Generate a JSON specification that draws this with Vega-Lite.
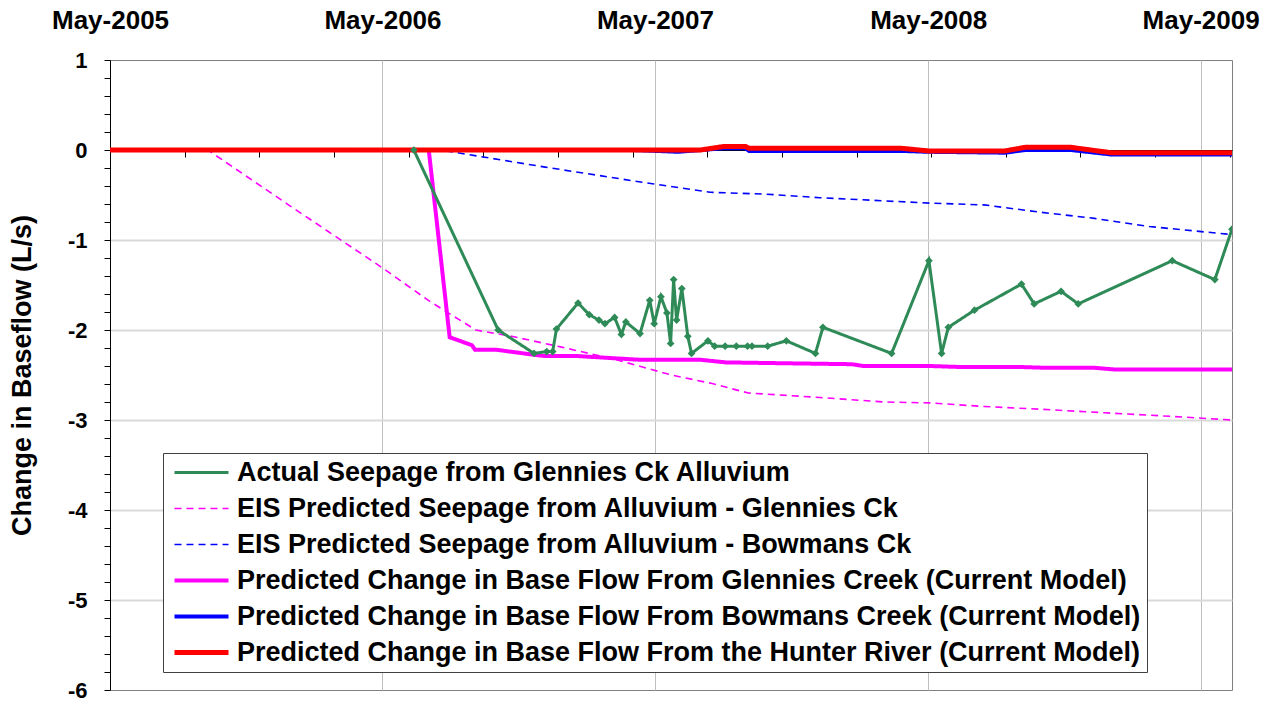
{
  "$schema": "https://vega.github.io/schema/vega-lite/v6.json",
  "width": 1122,
  "height": 630,
  "autosize": {"type": "none"},
  "padding": {"left": 110, "top": 60, "right": 42, "bottom": 14},
  "background": "#ffffff",
  "config": {"view": {"stroke": "#808080", "strokeWidth": 1}, "font": "Liberation Sans"},
  "data": {"values": [
    {"series": "Actual Seepage from Glennies Ck Alluvium", "date": "2006-06-12", "value": 0},
    {"series": "Actual Seepage from Glennies Ck Alluvium", "date": "2006-10-03", "value": -2.0},
    {"series": "Actual Seepage from Glennies Ck Alluvium", "date": "2006-11-20", "value": -2.26},
    {"series": "Actual Seepage from Glennies Ck Alluvium", "date": "2006-12-07", "value": -2.24},
    {"series": "Actual Seepage from Glennies Ck Alluvium", "date": "2006-12-15", "value": -2.24},
    {"series": "Actual Seepage from Glennies Ck Alluvium", "date": "2006-12-20", "value": -1.99},
    {"series": "Actual Seepage from Glennies Ck Alluvium", "date": "2007-01-18", "value": -1.70},
    {"series": "Actual Seepage from Glennies Ck Alluvium", "date": "2007-02-02", "value": -1.83},
    {"series": "Actual Seepage from Glennies Ck Alluvium", "date": "2007-02-15", "value": -1.89},
    {"series": "Actual Seepage from Glennies Ck Alluvium", "date": "2007-02-23", "value": -1.93},
    {"series": "Actual Seepage from Glennies Ck Alluvium", "date": "2007-03-08", "value": -1.86},
    {"series": "Actual Seepage from Glennies Ck Alluvium", "date": "2007-03-17", "value": -2.05},
    {"series": "Actual Seepage from Glennies Ck Alluvium", "date": "2007-03-23", "value": -1.91},
    {"series": "Actual Seepage from Glennies Ck Alluvium", "date": "2007-04-11", "value": -2.04},
    {"series": "Actual Seepage from Glennies Ck Alluvium", "date": "2007-04-24", "value": -1.67},
    {"series": "Actual Seepage from Glennies Ck Alluvium", "date": "2007-04-30", "value": -1.93},
    {"series": "Actual Seepage from Glennies Ck Alluvium", "date": "2007-05-09", "value": -1.63},
    {"series": "Actual Seepage from Glennies Ck Alluvium", "date": "2007-05-17", "value": -1.81},
    {"series": "Actual Seepage from Glennies Ck Alluvium", "date": "2007-05-22", "value": -2.15},
    {"series": "Actual Seepage from Glennies Ck Alluvium", "date": "2007-05-26", "value": -1.44},
    {"series": "Actual Seepage from Glennies Ck Alluvium", "date": "2007-05-30", "value": -1.89},
    {"series": "Actual Seepage from Glennies Ck Alluvium", "date": "2007-06-06", "value": -1.54},
    {"series": "Actual Seepage from Glennies Ck Alluvium", "date": "2007-06-14", "value": -2.07},
    {"series": "Actual Seepage from Glennies Ck Alluvium", "date": "2007-06-19", "value": -2.26},
    {"series": "Actual Seepage from Glennies Ck Alluvium", "date": "2007-07-11", "value": -2.12},
    {"series": "Actual Seepage from Glennies Ck Alluvium", "date": "2007-07-20", "value": -2.18},
    {"series": "Actual Seepage from Glennies Ck Alluvium", "date": "2007-08-03", "value": -2.18},
    {"series": "Actual Seepage from Glennies Ck Alluvium", "date": "2007-08-18", "value": -2.18},
    {"series": "Actual Seepage from Glennies Ck Alluvium", "date": "2007-09-02", "value": -2.18},
    {"series": "Actual Seepage from Glennies Ck Alluvium", "date": "2007-09-08", "value": -2.18},
    {"series": "Actual Seepage from Glennies Ck Alluvium", "date": "2007-09-29", "value": -2.18},
    {"series": "Actual Seepage from Glennies Ck Alluvium", "date": "2007-10-24", "value": -2.12},
    {"series": "Actual Seepage from Glennies Ck Alluvium", "date": "2007-12-02", "value": -2.26},
    {"series": "Actual Seepage from Glennies Ck Alluvium", "date": "2007-12-12", "value": -1.97},
    {"series": "Actual Seepage from Glennies Ck Alluvium", "date": "2008-03-13", "value": -2.26},
    {"series": "Actual Seepage from Glennies Ck Alluvium", "date": "2008-05-02", "value": -1.23},
    {"series": "Actual Seepage from Glennies Ck Alluvium", "date": "2008-05-19", "value": -2.26},
    {"series": "Actual Seepage from Glennies Ck Alluvium", "date": "2008-05-28", "value": -1.97},
    {"series": "Actual Seepage from Glennies Ck Alluvium", "date": "2008-07-02", "value": -1.78},
    {"series": "Actual Seepage from Glennies Ck Alluvium", "date": "2008-09-03", "value": -1.49},
    {"series": "Actual Seepage from Glennies Ck Alluvium", "date": "2008-09-20", "value": -1.71},
    {"series": "Actual Seepage from Glennies Ck Alluvium", "date": "2008-10-26", "value": -1.57},
    {"series": "Actual Seepage from Glennies Ck Alluvium", "date": "2008-11-18", "value": -1.71},
    {"series": "Actual Seepage from Glennies Ck Alluvium", "date": "2009-03-24", "value": -1.23},
    {"series": "Actual Seepage from Glennies Ck Alluvium", "date": "2009-05-20", "value": -1.44},
    {"series": "Actual Seepage from Glennies Ck Alluvium", "date": "2009-06-12", "value": -0.88},

    {"series": "EIS Predicted Seepage from Alluvium - Glennies Ck", "date": "2005-05-01", "value": 0},
    {"series": "EIS Predicted Seepage from Alluvium - Glennies Ck", "date": "2005-09-09", "value": 0},
    {"series": "EIS Predicted Seepage from Alluvium - Glennies Ck", "date": "2005-12-28", "value": -0.62},
    {"series": "EIS Predicted Seepage from Alluvium - Glennies Ck", "date": "2006-05-01", "value": -1.31},
    {"series": "EIS Predicted Seepage from Alluvium - Glennies Ck", "date": "2006-07-03", "value": -1.68},
    {"series": "EIS Predicted Seepage from Alluvium - Glennies Ck", "date": "2006-09-03", "value": -2.0},
    {"series": "EIS Predicted Seepage from Alluvium - Glennies Ck", "date": "2006-10-21", "value": -2.07},
    {"series": "EIS Predicted Seepage from Alluvium - Glennies Ck", "date": "2006-12-27", "value": -2.19},
    {"series": "EIS Predicted Seepage from Alluvium - Glennies Ck", "date": "2007-03-10", "value": -2.33},
    {"series": "EIS Predicted Seepage from Alluvium - Glennies Ck", "date": "2007-05-23", "value": -2.50},
    {"series": "EIS Predicted Seepage from Alluvium - Glennies Ck", "date": "2007-07-14", "value": -2.59},
    {"series": "EIS Predicted Seepage from Alluvium - Glennies Ck", "date": "2007-09-03", "value": -2.70},
    {"series": "EIS Predicted Seepage from Alluvium - Glennies Ck", "date": "2007-12-08", "value": -2.75},
    {"series": "EIS Predicted Seepage from Alluvium - Glennies Ck", "date": "2008-03-04", "value": -2.80},
    {"series": "EIS Predicted Seepage from Alluvium - Glennies Ck", "date": "2008-05-03", "value": -2.81},
    {"series": "EIS Predicted Seepage from Alluvium - Glennies Ck", "date": "2008-07-15", "value": -2.85},
    {"series": "EIS Predicted Seepage from Alluvium - Glennies Ck", "date": "2008-09-27", "value": -2.88},
    {"series": "EIS Predicted Seepage from Alluvium - Glennies Ck", "date": "2008-12-24", "value": -2.92},
    {"series": "EIS Predicted Seepage from Alluvium - Glennies Ck", "date": "2009-03-23", "value": -2.96},
    {"series": "EIS Predicted Seepage from Alluvium - Glennies Ck", "date": "2009-06-12", "value": -3.0},

    {"series": "EIS Predicted Seepage from Alluvium - Bowmans Ck", "date": "2005-05-01", "value": 0},
    {"series": "EIS Predicted Seepage from Alluvium - Bowmans Ck", "date": "2006-07-18", "value": 0},
    {"series": "EIS Predicted Seepage from Alluvium - Bowmans Ck", "date": "2006-12-05", "value": -0.19},
    {"series": "EIS Predicted Seepage from Alluvium - Bowmans Ck", "date": "2007-04-23", "value": -0.37},
    {"series": "EIS Predicted Seepage from Alluvium - Bowmans Ck", "date": "2007-07-14", "value": -0.47},
    {"series": "EIS Predicted Seepage from Alluvium - Bowmans Ck", "date": "2007-09-26", "value": -0.49},
    {"series": "EIS Predicted Seepage from Alluvium - Bowmans Ck", "date": "2007-12-08", "value": -0.53},
    {"series": "EIS Predicted Seepage from Alluvium - Bowmans Ck", "date": "2008-02-19", "value": -0.56},
    {"series": "EIS Predicted Seepage from Alluvium - Bowmans Ck", "date": "2008-05-03", "value": -0.59},
    {"series": "EIS Predicted Seepage from Alluvium - Bowmans Ck", "date": "2008-07-15", "value": -0.61},
    {"series": "EIS Predicted Seepage from Alluvium - Bowmans Ck", "date": "2008-09-27", "value": -0.69},
    {"series": "EIS Predicted Seepage from Alluvium - Bowmans Ck", "date": "2008-12-10", "value": -0.76},
    {"series": "EIS Predicted Seepage from Alluvium - Bowmans Ck", "date": "2009-02-21", "value": -0.85},
    {"series": "EIS Predicted Seepage from Alluvium - Bowmans Ck", "date": "2009-06-12", "value": -0.94},

    {"series": "Predicted Change in Base Flow From Glennies Creek (Current Model)", "date": "2005-05-01", "value": 0},
    {"series": "Predicted Change in Base Flow From Glennies Creek (Current Model)", "date": "2006-07-02", "value": 0},
    {"series": "Predicted Change in Base Flow From Glennies Creek (Current Model)", "date": "2006-07-30", "value": -2.08},
    {"series": "Predicted Change in Base Flow From Glennies Creek (Current Model)", "date": "2006-08-29", "value": -2.17},
    {"series": "Predicted Change in Base Flow From Glennies Creek (Current Model)", "date": "2006-09-02", "value": -2.22},
    {"series": "Predicted Change in Base Flow From Glennies Creek (Current Model)", "date": "2006-10-01", "value": -2.22},
    {"series": "Predicted Change in Base Flow From Glennies Creek (Current Model)", "date": "2006-11-15", "value": -2.27},
    {"series": "Predicted Change in Base Flow From Glennies Creek (Current Model)", "date": "2006-12-05", "value": -2.29},
    {"series": "Predicted Change in Base Flow From Glennies Creek (Current Model)", "date": "2007-01-18", "value": -2.29},
    {"series": "Predicted Change in Base Flow From Glennies Creek (Current Model)", "date": "2007-04-09", "value": -2.33},
    {"series": "Predicted Change in Base Flow From Glennies Creek (Current Model)", "date": "2007-06-30", "value": -2.33},
    {"series": "Predicted Change in Base Flow From Glennies Creek (Current Model)", "date": "2007-08-04", "value": -2.36},
    {"series": "Predicted Change in Base Flow From Glennies Creek (Current Model)", "date": "2007-10-25", "value": -2.37},
    {"series": "Predicted Change in Base Flow From Glennies Creek (Current Model)", "date": "2008-01-20", "value": -2.38},
    {"series": "Predicted Change in Base Flow From Glennies Creek (Current Model)", "date": "2008-02-04", "value": -2.40},
    {"series": "Predicted Change in Base Flow From Glennies Creek (Current Model)", "date": "2008-05-03", "value": -2.40},
    {"series": "Predicted Change in Base Flow From Glennies Creek (Current Model)", "date": "2008-06-09", "value": -2.41},
    {"series": "Predicted Change in Base Flow From Glennies Creek (Current Model)", "date": "2008-08-29", "value": -2.41},
    {"series": "Predicted Change in Base Flow From Glennies Creek (Current Model)", "date": "2008-10-05", "value": -2.42},
    {"series": "Predicted Change in Base Flow From Glennies Creek (Current Model)", "date": "2008-12-10", "value": -2.42},
    {"series": "Predicted Change in Base Flow From Glennies Creek (Current Model)", "date": "2009-01-08", "value": -2.44},
    {"series": "Predicted Change in Base Flow From Glennies Creek (Current Model)", "date": "2009-06-12", "value": -2.44},

    {"series": "Predicted Change in Base Flow From Bowmans Creek (Current Model)", "date": "2005-05-01", "value": 0},
    {"series": "Predicted Change in Base Flow From Bowmans Creek (Current Model)", "date": "2007-04-01", "value": 0},
    {"series": "Predicted Change in Base Flow From Bowmans Creek (Current Model)", "date": "2007-06-01", "value": -0.02},
    {"series": "Predicted Change in Base Flow From Bowmans Creek (Current Model)", "date": "2007-08-02", "value": 0.02},
    {"series": "Predicted Change in Base Flow From Bowmans Creek (Current Model)", "date": "2007-08-30", "value": 0.02},
    {"series": "Predicted Change in Base Flow From Bowmans Creek (Current Model)", "date": "2007-09-04", "value": -0.01},
    {"series": "Predicted Change in Base Flow From Bowmans Creek (Current Model)", "date": "2008-03-25", "value": -0.01},
    {"series": "Predicted Change in Base Flow From Bowmans Creek (Current Model)", "date": "2008-05-01", "value": -0.02},
    {"series": "Predicted Change in Base Flow From Bowmans Creek (Current Model)", "date": "2008-08-12", "value": -0.03},
    {"series": "Predicted Change in Base Flow From Bowmans Creek (Current Model)", "date": "2008-09-08", "value": 0.0},
    {"series": "Predicted Change in Base Flow From Bowmans Creek (Current Model)", "date": "2008-11-08", "value": 0.0},
    {"series": "Predicted Change in Base Flow From Bowmans Creek (Current Model)", "date": "2009-01-01", "value": -0.05},
    {"series": "Predicted Change in Base Flow From Bowmans Creek (Current Model)", "date": "2009-06-12", "value": -0.05},

    {"series": "Predicted Change in Base Flow From the Hunter River (Current Model)", "date": "2005-05-01", "value": 0},
    {"series": "Predicted Change in Base Flow From the Hunter River (Current Model)", "date": "2007-07-01", "value": 0},
    {"series": "Predicted Change in Base Flow From the Hunter River (Current Model)", "date": "2007-08-02", "value": 0.04},
    {"series": "Predicted Change in Base Flow From the Hunter River (Current Model)", "date": "2007-08-30", "value": 0.04},
    {"series": "Predicted Change in Base Flow From the Hunter River (Current Model)", "date": "2007-09-04", "value": 0.02},
    {"series": "Predicted Change in Base Flow From the Hunter River (Current Model)", "date": "2008-03-25", "value": 0.02},
    {"series": "Predicted Change in Base Flow From the Hunter River (Current Model)", "date": "2008-05-01", "value": -0.01},
    {"series": "Predicted Change in Base Flow From the Hunter River (Current Model)", "date": "2008-08-12", "value": -0.01},
    {"series": "Predicted Change in Base Flow From the Hunter River (Current Model)", "date": "2008-09-08", "value": 0.03},
    {"series": "Predicted Change in Base Flow From the Hunter River (Current Model)", "date": "2008-11-08", "value": 0.03},
    {"series": "Predicted Change in Base Flow From the Hunter River (Current Model)", "date": "2009-01-01", "value": -0.03},
    {"series": "Predicted Change in Base Flow From the Hunter River (Current Model)", "date": "2009-06-12", "value": -0.03}
  ]},
  "layer": [
    {
      "transform": [{"filter": "indexof(datum.series, 'EIS') == 0 || indexof(datum.series, 'Glennies Creek') > 0"}],
      "mark": {"type": "line", "clip": true},
      "encoding": {
        "x": {"field": "date", "type": "temporal",
          "scale": {"type": "utc", "domain": [{"year": 2005, "month": 5, "date": 1, "utc": true}, {"year": 2009, "month": 6, "date": 12, "utc": true}]},
          "axis": {"orient": "top", "title": null,
            "values": [{"year": 2005, "month": 5, "date": 1, "utc": true}, {"year": 2006, "month": 5, "date": 1, "utc": true}, {"year": 2007, "month": 5, "date": 1, "utc": true}, {"year": 2008, "month": 5, "date": 1, "utc": true}, {"year": 2009, "month": 5, "date": 1, "utc": true}],
            "labelExpr": "utcFormat(datum.value, '%b-%Y')", "ticks": false, "domain": false,
            "labelFont": "Liberation Sans", "labelFontWeight": "bold", "labelFontSize": 26, "labelColor": "#000000",
            "labelPadding": 27, "labelFlush": false, "labelOverlap": false, "labelBound": false, "labelLimit": 300,
            "grid": true, "gridColor": "#bfbfbf", "gridWidth": 1}},
        "y": {"field": "value", "type": "quantitative",
          "scale": {"domain": [-6, 1], "nice": false, "zero": false},
          "axis": {"orient": "left",
            "values": [1, 0.8, 0.6, 0.4, 0.2, 0, -0.2, -0.4, -0.6, -0.8, -1, -1.2, -1.4, -1.6, -1.8, -2, -2.2, -2.4, -2.6, -2.8, -3, -3.2, -3.4, -3.6, -3.8, -4, -4.2, -4.4, -4.6, -4.8, -5, -5.2, -5.4, -5.6, -5.8, -6],
            "labelExpr": "datum.value % 1 == 0 ? '' + datum.value : ''",
            "labelFont": "Liberation Sans", "labelFontWeight": "bold", "labelFontSize": 22, "labelColor": "#000000",
            "labelPadding": 17, "labelOverlap": false, "labelBound": false, "labelFlush": false,
            "tickSize": 6, "tickColor": "#000000", "domainColor": "#000000",
            "grid": true, "gridColor": "#d9d9d9", "gridWidth": 2,
            "gridOpacity": {"condition": {"test": "datum.value % 1 == 0 && datum.value < 0 && datum.value > -6", "value": 1}, "value": 0},
            "title": "Change in Baseflow (L/s)", "titleFont": "Liberation Sans", "titleFontWeight": "bold", "titleFontSize": 27, "titleColor": "#000000",
            "titleX": -88, "titleY": 315, "titleAngle": -90, "titleAlign": "center", "titleBaseline": "middle"}},
        "color": {"field": "series", "type": "nominal",
          "scale": {"domain": ["Actual Seepage from Glennies Ck Alluvium", "EIS Predicted Seepage from Alluvium - Glennies Ck", "EIS Predicted Seepage from Alluvium - Bowmans Ck", "Predicted Change in Base Flow From Glennies Creek (Current Model)", "Predicted Change in Base Flow From Bowmans Creek (Current Model)", "Predicted Change in Base Flow From the Hunter River (Current Model)"],
            "range": ["#2e8b57", "#ff00ff", "#0000ff", "#ff00ff", "#0000ff", "#ff0000"]},
          "legend": {"title": null, "orient": "none", "legendX": 53, "legendY": 393, "direction": "vertical", "padding": 6, "strokeColor": "#404040", "fillColor": "#ffffff", "labelFont": "Liberation Sans", "labelFontWeight": "bold", "labelFontSize": 27, "labelColor": "#000000", "labelLimit": 1200, "symbolType": "M-2.7,0H2.7", "symbolSize": 400, "symbolOffset": 19, "labelOffset": 22, "rowPadding": 8}},
        "strokeDash": {"field": "series", "type": "nominal",
          "scale": {"domain": ["Actual Seepage from Glennies Ck Alluvium", "EIS Predicted Seepage from Alluvium - Glennies Ck", "EIS Predicted Seepage from Alluvium - Bowmans Ck", "Predicted Change in Base Flow From Glennies Creek (Current Model)", "Predicted Change in Base Flow From Bowmans Creek (Current Model)", "Predicted Change in Base Flow From the Hunter River (Current Model)"],
            "range": [[1, 0], [7, 5], [7, 5], [1, 0], [1, 0], [1, 0]]},
          "legend": {"title": null, "orient": "none", "legendX": 53, "legendY": 393, "direction": "vertical", "padding": 6, "strokeColor": "#404040", "fillColor": "#ffffff", "labelFont": "Liberation Sans", "labelFontWeight": "bold", "labelFontSize": 27, "labelColor": "#000000", "labelLimit": 1200, "symbolType": "M-2.7,0H2.7", "symbolSize": 400, "symbolOffset": 19, "labelOffset": 22, "rowPadding": 8}},
        "strokeWidth": {"field": "series", "type": "nominal",
          "scale": {"type": "ordinal", "domain": ["Actual Seepage from Glennies Ck Alluvium", "EIS Predicted Seepage from Alluvium - Glennies Ck", "EIS Predicted Seepage from Alluvium - Bowmans Ck", "Predicted Change in Base Flow From Glennies Creek (Current Model)", "Predicted Change in Base Flow From Bowmans Creek (Current Model)", "Predicted Change in Base Flow From the Hunter River (Current Model)"],
            "range": [3, 1.6, 1.6, 4, 4, 5]},
          "legend": {"title": null, "orient": "none", "legendX": 53, "legendY": 393, "direction": "vertical", "padding": 6, "strokeColor": "#404040", "fillColor": "#ffffff", "labelFont": "Liberation Sans", "labelFontWeight": "bold", "labelFontSize": 27, "labelColor": "#000000", "labelLimit": 1200, "symbolType": "M-2.7,0H2.7", "symbolSize": 400, "symbolOffset": 19, "labelOffset": 22, "rowPadding": 8}}
      }
    },
    {
      "transform": [{"filter": "indexof(datum.series, 'Bowmans Creek') > 0"}],
      "mark": {"type": "line", "clip": true},
      "encoding": {
        "x": {"field": "date", "type": "temporal",
          "scale": {"type": "utc", "domain": [{"year": 2005, "month": 5, "date": 1, "utc": true}, {"year": 2009, "month": 6, "date": 12, "utc": true}]},
          "axis": {"orient": "bottom", "offset": -540, "title": null, "labels": false, "grid": false,
            "values": [{"year": 2005, "month": 8, "date": 9, "utc": true}, {"year": 2005, "month": 11, "date": 17, "utc": true}, {"year": 2006, "month": 2, "date": 25, "utc": true}, {"year": 2006, "month": 6, "date": 5, "utc": true}, {"year": 2006, "month": 9, "date": 13, "utc": true}, {"year": 2006, "month": 12, "date": 22, "utc": true}, {"year": 2007, "month": 4, "date": 1, "utc": true}, {"year": 2007, "month": 7, "date": 10, "utc": true}, {"year": 2007, "month": 10, "date": 18, "utc": true}, {"year": 2008, "month": 1, "date": 26, "utc": true}, {"year": 2008, "month": 5, "date": 5, "utc": true}, {"year": 2008, "month": 8, "date": 13, "utc": true}, {"year": 2008, "month": 11, "date": 21, "utc": true}, {"year": 2009, "month": 3, "date": 1, "utc": true}, {"year": 2009, "month": 6, "date": 9, "utc": true}],
            "ticks": true, "tickSize": 7, "tickColor": "#000000", "domain": true, "domainColor": "#000000"}},
        "y": {"field": "value", "type": "quantitative", "scale": {"domain": [-6, 1], "nice": false, "zero": false}, "axis": null},
        "color": {"field": "series", "type": "nominal",
          "scale": {"domain": ["Actual Seepage from Glennies Ck Alluvium", "EIS Predicted Seepage from Alluvium - Glennies Ck", "EIS Predicted Seepage from Alluvium - Bowmans Ck", "Predicted Change in Base Flow From Glennies Creek (Current Model)", "Predicted Change in Base Flow From Bowmans Creek (Current Model)", "Predicted Change in Base Flow From the Hunter River (Current Model)"],
            "range": ["#2e8b57", "#ff00ff", "#0000ff", "#ff00ff", "#0000ff", "#ff0000"]},
          "legend": {"title": null, "orient": "none", "legendX": 53, "legendY": 393, "direction": "vertical", "padding": 6, "strokeColor": "#404040", "fillColor": "#ffffff", "labelFont": "Liberation Sans", "labelFontWeight": "bold", "labelFontSize": 27, "labelColor": "#000000", "labelLimit": 1200, "symbolType": "M-2.7,0H2.7", "symbolSize": 400, "symbolOffset": 19, "labelOffset": 22, "rowPadding": 8}},
        "strokeDash": {"field": "series", "type": "nominal",
          "scale": {"domain": ["Actual Seepage from Glennies Ck Alluvium", "EIS Predicted Seepage from Alluvium - Glennies Ck", "EIS Predicted Seepage from Alluvium - Bowmans Ck", "Predicted Change in Base Flow From Glennies Creek (Current Model)", "Predicted Change in Base Flow From Bowmans Creek (Current Model)", "Predicted Change in Base Flow From the Hunter River (Current Model)"],
            "range": [[1, 0], [7, 5], [7, 5], [1, 0], [1, 0], [1, 0]]},
          "legend": {"title": null, "orient": "none", "legendX": 53, "legendY": 393, "direction": "vertical", "padding": 6, "strokeColor": "#404040", "fillColor": "#ffffff", "labelFont": "Liberation Sans", "labelFontWeight": "bold", "labelFontSize": 27, "labelColor": "#000000", "labelLimit": 1200, "symbolType": "M-2.7,0H2.7", "symbolSize": 400, "symbolOffset": 19, "labelOffset": 22, "rowPadding": 8}},
        "strokeWidth": {"field": "series", "type": "nominal",
          "scale": {"type": "ordinal", "domain": ["Actual Seepage from Glennies Ck Alluvium", "EIS Predicted Seepage from Alluvium - Glennies Ck", "EIS Predicted Seepage from Alluvium - Bowmans Ck", "Predicted Change in Base Flow From Glennies Creek (Current Model)", "Predicted Change in Base Flow From Bowmans Creek (Current Model)", "Predicted Change in Base Flow From the Hunter River (Current Model)"],
            "range": [3, 1.6, 1.6, 4, 4, 5]},
          "legend": {"title": null, "orient": "none", "legendX": 53, "legendY": 393, "direction": "vertical", "padding": 6, "strokeColor": "#404040", "fillColor": "#ffffff", "labelFont": "Liberation Sans", "labelFontWeight": "bold", "labelFontSize": 27, "labelColor": "#000000", "labelLimit": 1200, "symbolType": "M-2.7,0H2.7", "symbolSize": 400, "symbolOffset": 19, "labelOffset": 22, "rowPadding": 8}}
      }
    },
    {
      "transform": [{"filter": "indexof(datum.series, 'Hunter') > 0 || indexof(datum.series, 'Actual') == 0"}],
      "mark": {"type": "line", "clip": true},
      "encoding": {
        "x": {"field": "date", "type": "temporal",
          "scale": {"type": "utc", "domain": [{"year": 2005, "month": 5, "date": 1, "utc": true}, {"year": 2009, "month": 6, "date": 12, "utc": true}]},
          "axis": null},
        "y": {"field": "value", "type": "quantitative", "scale": {"domain": [-6, 1], "nice": false, "zero": false}, "axis": null},
        "color": {"field": "series", "type": "nominal",
          "scale": {"domain": ["Actual Seepage from Glennies Ck Alluvium", "EIS Predicted Seepage from Alluvium - Glennies Ck", "EIS Predicted Seepage from Alluvium - Bowmans Ck", "Predicted Change in Base Flow From Glennies Creek (Current Model)", "Predicted Change in Base Flow From Bowmans Creek (Current Model)", "Predicted Change in Base Flow From the Hunter River (Current Model)"],
            "range": ["#2e8b57", "#ff00ff", "#0000ff", "#ff00ff", "#0000ff", "#ff0000"]},
          "legend": {"title": null, "orient": "none", "legendX": 53, "legendY": 393, "direction": "vertical", "padding": 6, "strokeColor": "#404040", "fillColor": "#ffffff", "labelFont": "Liberation Sans", "labelFontWeight": "bold", "labelFontSize": 27, "labelColor": "#000000", "labelLimit": 1200, "symbolType": "M-2.7,0H2.7", "symbolSize": 400, "symbolOffset": 19, "labelOffset": 22, "rowPadding": 8}},
        "strokeDash": {"field": "series", "type": "nominal",
          "scale": {"domain": ["Actual Seepage from Glennies Ck Alluvium", "EIS Predicted Seepage from Alluvium - Glennies Ck", "EIS Predicted Seepage from Alluvium - Bowmans Ck", "Predicted Change in Base Flow From Glennies Creek (Current Model)", "Predicted Change in Base Flow From Bowmans Creek (Current Model)", "Predicted Change in Base Flow From the Hunter River (Current Model)"],
            "range": [[1, 0], [7, 5], [7, 5], [1, 0], [1, 0], [1, 0]]},
          "legend": {"title": null, "orient": "none", "legendX": 53, "legendY": 393, "direction": "vertical", "padding": 6, "strokeColor": "#404040", "fillColor": "#ffffff", "labelFont": "Liberation Sans", "labelFontWeight": "bold", "labelFontSize": 27, "labelColor": "#000000", "labelLimit": 1200, "symbolType": "M-2.7,0H2.7", "symbolSize": 400, "symbolOffset": 19, "labelOffset": 22, "rowPadding": 8}},
        "strokeWidth": {"field": "series", "type": "nominal",
          "scale": {"type": "ordinal", "domain": ["Actual Seepage from Glennies Ck Alluvium", "EIS Predicted Seepage from Alluvium - Glennies Ck", "EIS Predicted Seepage from Alluvium - Bowmans Ck", "Predicted Change in Base Flow From Glennies Creek (Current Model)", "Predicted Change in Base Flow From Bowmans Creek (Current Model)", "Predicted Change in Base Flow From the Hunter River (Current Model)"],
            "range": [3, 1.6, 1.6, 4, 4, 5]},
          "legend": {"title": null, "orient": "none", "legendX": 53, "legendY": 393, "direction": "vertical", "padding": 6, "strokeColor": "#404040", "fillColor": "#ffffff", "labelFont": "Liberation Sans", "labelFontWeight": "bold", "labelFontSize": 27, "labelColor": "#000000", "labelLimit": 1200, "symbolType": "M-2.7,0H2.7", "symbolSize": 400, "symbolOffset": 19, "labelOffset": 22, "rowPadding": 8}}
      }
    },
    {
      "transform": [{"filter": "indexof(datum.series, 'Actual') == 0"}],
      "mark": {"type": "point", "shape": "diamond", "filled": true, "size": 60, "opacity": 1, "clip": true},
      "encoding": {
        "x": {"field": "date", "type": "temporal",
          "scale": {"type": "utc", "domain": [{"year": 2005, "month": 5, "date": 1, "utc": true}, {"year": 2009, "month": 6, "date": 12, "utc": true}]},
          "axis": null},
        "y": {"field": "value", "type": "quantitative", "scale": {"domain": [-6, 1], "nice": false, "zero": false}, "axis": null},
        "color": {"value": "#2e8b57"}
      }
    }
  ],
  "resolve": {"axis": {"x": "independent", "y": "independent"}}
}
